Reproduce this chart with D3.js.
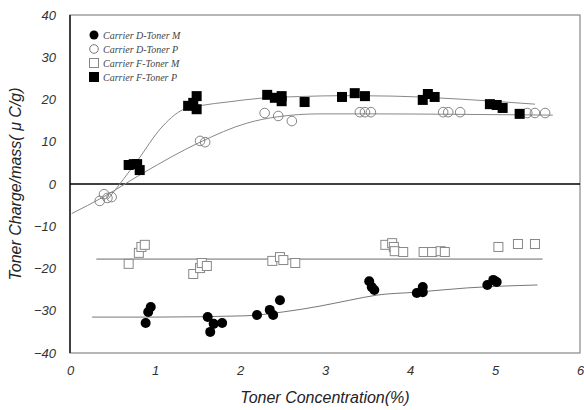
<!DOCTYPE html>
<html><head><meta charset="utf-8">
<script src="https://cdn.jsdelivr.net/npm/d3@7"></script>
<style>body{margin:0;background:#fff}svg{display:block}</style>
</head><body><svg id="c" width="584" height="410"></svg>
<script>
// ---- data ----
const seriesNames = ["Carrier D-Toner M","Carrier D-Toner P","Carrier F-Toner M","Carrier F-Toner P"];
const xTicks = [0,1,2,3,4,5,6];
const yTicks = [-40,-30,-20,-10,0,10,20,30,40];

// Carrier D-Toner M (filled circles)
const dmX = [0.89,0.92,0.95,1.62,1.69,1.65,1.79,2.20,2.35,2.39,2.47,3.52,3.55,3.58,4.08,4.15,4.15,4.91,4.98,5.02];
const dmY = [-32.9,-30.3,-29.1,-31.5,-33.1,-35.0,-32.9,-31.0,-29.8,-31.0,-27.5,-23.0,-24.4,-25.1,-25.8,-24.4,-25.6,-23.9,-22.7,-23.2];
// Carrier D-Toner P (open circles)
const dpX = [0.35,0.40,0.44,0.49,1.53,1.59,2.29,2.45,2.61,3.41,3.47,3.54,4.39,4.45,4.59,5.38,5.47,5.59];
const dpY = [-4.0,-2.4,-3.3,-3.1,10.2,9.9,16.8,16.1,14.9,17.0,17.0,17.0,17.0,17.0,17.0,16.8,16.8,16.8];
// Carrier F-Toner M (open squares)
const fmX = [0.69,0.81,0.84,0.88,1.45,1.53,1.55,1.61,2.38,2.47,2.51,2.65,3.71,3.79,3.81,3.82,3.92,4.16,4.26,4.36,4.41,5.04,5.27,5.47];
const fmY = [-18.9,-16.3,-14.9,-14.4,-21.3,-19.9,-18.7,-19.4,-18.2,-17.3,-18.0,-18.7,-14.4,-14.0,-14.9,-15.9,-16.1,-16.1,-16.1,-15.9,-16.1,-14.9,-14.2,-14.2];
// Carrier F-Toner P (filled squares)
const fpX = [0.69,0.75,0.79,0.82,1.39,1.45,1.49,1.49,2.32,2.41,2.49,2.49,2.76,3.20,3.35,3.47,4.15,4.21,4.29,4.94,5.02,5.09,5.29];
const fpY = [4.5,4.7,4.7,3.3,18.5,19.2,20.8,17.7,21.1,20.4,20.8,19.6,19.4,20.6,21.5,20.8,19.9,21.3,20.6,18.9,18.7,18.0,16.6];

// fitted trend curves
const fitDMx = [0.26,1.0,2.06,2.5,2.94,3.29,3.61,4.08,4.67,5.5];
const fitDMy = [-31.5,-31.5,-31.2,-30.3,-28.9,-27.5,-26.3,-25.6,-24.6,-23.9];
const fitDPx = [0.02,0.39,0.86,1.53,2.08,2.44,2.94,3.5,4.5,5.68];
const fitDPy = [-7.0,-3.1,2.6,9.9,14.4,15.9,16.6,16.6,16.5,16.3];
const fitFMx = [0.31,5.56];
const fitFMy = [-17.8,-17.8];
const fitFPx = [0.45,0.8,1.06,1.33,1.55,1.85,2.24,2.7,3.2,3.8,4.3,4.9,5.47];
const fitFPy = [-3.5,5.7,13.0,17.6,18.6,19.4,20.3,20.7,20.9,20.8,20.4,19.7,18.9];

// ---- chart ----
const svg = d3.select("#c");
const L=70, R=580, T=15, B=353;
const x = d3.scaleLinear().domain([0,6]).range([L,R]);
const y = d3.scaleLinear().domain([-40,40]).range([B,T]);
const sans = "'Liberation Sans', Arial, sans-serif";
const serif = "'Liberation Serif', 'Times New Roman', serif";

// frame
svg.append("rect").attr("x",L).attr("y",T).attr("width",R-L).attr("height",B-T)
  .attr("fill","none").attr("stroke","#888").attr("stroke-width",1.2);
svg.append("line").attr("x1",L).attr("x2",L).attr("y1",T).attr("y2",B).attr("stroke","#222").attr("stroke-width",1.6);
// zero line
svg.append("line").attr("x1",L).attr("x2",R).attr("y1",y(0)).attr("y2",y(0)).attr("stroke","#000").attr("stroke-width",1.6);

// axes labels (no tick marks)
const xa = svg.append("g").attr("transform",`translate(0,${B})`)
  .call(d3.axisBottom(x).tickValues(xTicks).tickSize(0).tickPadding(13).tickFormat(d3.format("d")));
xa.select(".domain").remove();
xa.selectAll("text").attr("font-family",sans).attr("font-style","italic").attr("font-size",13).attr("fill","#333");
const ya = svg.append("g").attr("transform",`translate(${L},0)`)
  .call(d3.axisLeft(y).tickValues(yTicks).tickSize(0).tickPadding(14).tickFormat(d3.format("d")));
ya.select(".domain").remove();
ya.selectAll("text").attr("font-family",sans).attr("font-style","italic").attr("font-size",13).attr("fill","#333")
  .text(d=>d<0?"\u2212"+Math.abs(d):d);

// titles
svg.append("text").attr("x",(L+R)/2).attr("y",403).attr("text-anchor","middle")
  .attr("font-family",sans).attr("font-style","italic").attr("font-size",16).attr("fill","#222")
  .text("Toner Concentration(%)");
svg.append("text").attr("transform",`translate(21,${(T+B)/2}) rotate(-90)`).attr("text-anchor","middle")
  .attr("font-family",sans).attr("font-style","italic").attr("font-size",16).attr("fill","#222")
  .text("Toner Charge/mass( μ C/g)");

// fit curves
const lineGen = d3.line().x(d=>x(d[0])).y(d=>y(d[1])).curve(d3.curveMonotoneX);
const fits = [[fitDMx,fitDMy,"#777",1],[fitDPx,fitDPy,"#888",1],[fitFMx,fitFMy,"#aaa",1.8],[fitFPx,fitFPy,"#888",1]];
fits.forEach(([fx,fy,c,w])=>{
  svg.append("path").datum(fx.map((v,i)=>[v,fy[i]])).attr("d",lineGen)
    .attr("fill","none").attr("stroke",c).attr("stroke-width",w);
});

// markers
const zip=(a,b)=>a.map((v,i)=>[v,b[i]]);
svg.append("g").selectAll("rect").data(zip(fmX,fmY)).join("rect")
  .attr("x",d=>x(d[0])-4.5).attr("y",d=>y(d[1])-4.5).attr("width",9).attr("height",9)
  .attr("fill","#fff").attr("stroke","#888").attr("stroke-width",1);
svg.append("g").selectAll("circle").data(zip(dpX,dpY)).join("circle")
  .attr("cx",d=>x(d[0])).attr("cy",d=>y(d[1])).attr("r",4.8)
  .attr("fill","none").attr("stroke","#777").attr("stroke-width",0.9);
svg.append("g").selectAll("rect").data(zip(fpX,fpY)).join("rect")
  .attr("x",d=>x(d[0])-5).attr("y",d=>y(d[1])-5).attr("width",10).attr("height",10)
  .attr("fill","#000");
svg.append("g").selectAll("circle").data(zip(dmX,dmY)).join("circle")
  .attr("cx",d=>x(d[0])).attr("cy",d=>y(d[1])).attr("r",5)
  .attr("fill","#000");

// legend
const lg = svg.append("g");
seriesNames.forEach((name,i)=>{
  const cy = 35 + i*14, cx = 94;
  if(i===0) lg.append("circle").attr("cx",cx).attr("cy",cy).attr("r",4.5).attr("fill","#000");
  if(i===1) lg.append("circle").attr("cx",cx).attr("cy",cy).attr("r",4.3).attr("fill","none").attr("stroke","#777");
  if(i===2) lg.append("rect").attr("x",cx-4.5).attr("y",cy-4.5).attr("width",9).attr("height",9).attr("fill","#fff").attr("stroke","#888");
  if(i===3) lg.append("rect").attr("x",cx-5).attr("y",cy-5).attr("width",10).attr("height",10).attr("fill","#000");
  lg.append("text").attr("x",cx+9).attr("y",cy+3.5).attr("font-family",serif).attr("font-style","italic")
    .attr("font-size",10).attr("fill","#444").text(name);
});
</script></body></html>
